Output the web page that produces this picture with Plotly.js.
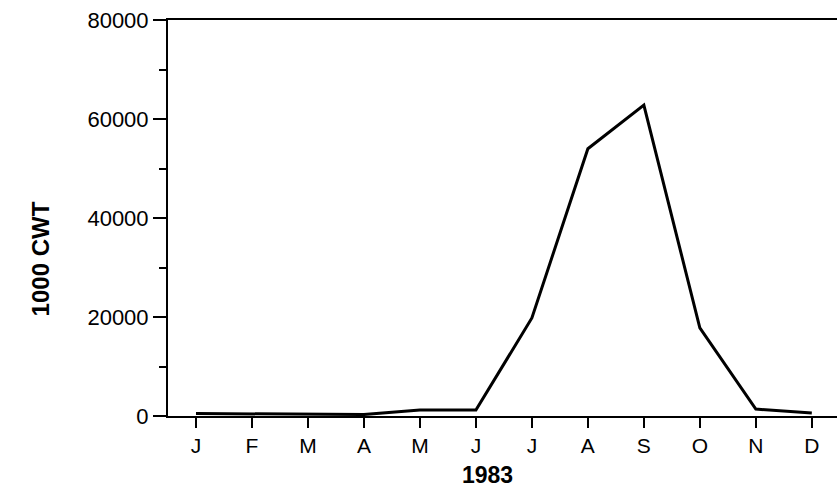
<!DOCTYPE html>
<html>
<head>
<meta charset="utf-8">
<script src="https://cdn.plot.ly/plotly-3.0.1.min.js"></script>
<style>html,body{margin:0;padding:0;background:#fff;}#chart{width:837px;height:503px;}</style>
</head>
<body>
<div id="chart"></div>
<script>
var months = ["J","F","M","A","M","J","J","A","S","O","N","D"];
var values = [500, 400, 300, 300, 1200, 1200, 19800, 54000, 62800, 17800, 1400, 600];
var yTicks = [0, 20000, 40000, 60000, 80000];
var xTitle = "1983";
var yTitle = "1000 CWT";

var idx = months.map(function(_, i){ return i; });

var trace = {
  x: idx,
  y: values,
  type: "scatter",
  mode: "lines",
  line: {color: "#000", width: 3},
  hoverinfo: "skip"
};

var fam = "Liberation Sans, Arial, sans-serif";

var layout = {
  width: 837, height: 503,
  margin: {l: 168, r: 0, t: 20, b: 87},
  paper_bgcolor: "#fff", plot_bgcolor: "#fff",
  showlegend: false,
  font: {family: fam, color: "#000", size: 22},
  xaxis: {
    range: [-0.5, 11.45],
    tickmode: "array", tickvals: idx, ticktext: months,
    ticks: "outside", ticklen: 10, tickwidth: 2, tickcolor: "#000",
    showline: true, linecolor: "#000", linewidth: 2, mirror: true,
    showgrid: false, zeroline: false,
    tickfont: {family: fam, size: 21, color: "#000"}
  },
  yaxis: {
    range: [0, 80000],
    tickmode: "array", tickvals: yTicks, ticktext: yTicks.map(String),
    ticks: "outside", ticklen: 13, tickwidth: 2, tickcolor: "#000",
    minor: {dtick: 10000, tick0: 0, ticks: "outside", ticklen: 7, tickwidth: 2, tickcolor: "#000", showgrid: false},
    showline: true, linecolor: "#000", linewidth: 2,
    showgrid: false, zeroline: false,
    tickfont: {family: fam, size: 22, color: "#000"}
  },
  annotations: [
    {text: "<b>" + xTitle + "</b>", xref: "paper", yref: "paper", x: 0.478, y: -0.148,
     xanchor: "center", yanchor: "middle", showarrow: false, font: {family: fam, size: 23, color: "#000"}},
    {text: "<b>" + yTitle + "</b>", xref: "paper", yref: "paper", x: -0.191, y: 0.396,
     xanchor: "center", yanchor: "middle", textangle: -90, showarrow: false, font: {family: fam, size: 24, color: "#000"}}
  ],
  shapes: [
    {type: "line", xref: "paper", yref: "paper", x0: -0.02, x1: 0, y0: 1, y1: 1, line: {color: "#000", width: 2}}
  ]
};

Plotly.newPlot("chart", [trace], layout, {displayModeBar: false, staticPlot: true});
</script>
</body>
</html>
